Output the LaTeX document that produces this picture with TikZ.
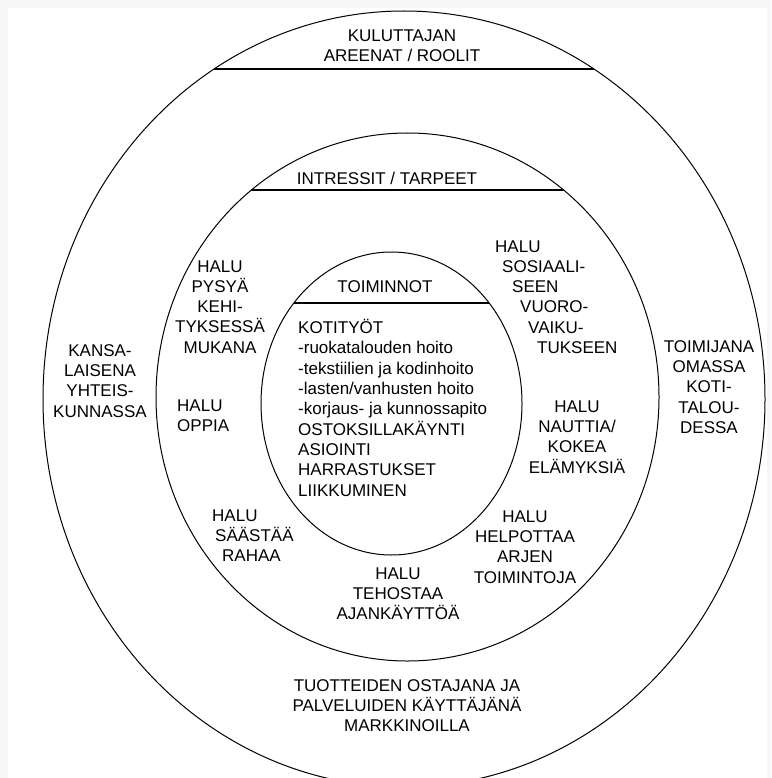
\documentclass[tikz,border=0pt]{standalone}
\usepackage{fontspec}
\setmainfont{Liberation Sans}
\usepackage{tikz}
\usetikzlibrary{positioning}

\definecolor{paper}{gray}{0.97}

\begin{document}
\begin{tikzpicture}[x=1pt, y=-1pt]
% -------------------------------------------------
\tikzset{
  ring/.style={draw, line width=1pt},
  chord/.style={draw, line width=1.6pt},
  txt/.style={inner sep=0pt, align=center, font=\fontsize{17}{20.3}\selectfont,
    execute at begin node={\rule{0pt}{15pt}}},
  midtext/.style={txt, anchor=north},
  lefttext/.style={txt, align=left, anchor=north west}
}
% -------------------------------------------------
% Page and the three rings
\useasboundingbox (0,0) rectangle (771,778);
\clip (0,0) rectangle (771,778);
\fill[paper] (0,0) rectangle (771,778);
\fill[white] (8,8) rectangle (767,778);

\draw[ring] (404,399) ellipse [x radius=361, y radius=388];
\draw[ring] (407.5,397) ellipse [x radius=251.5, y radius=264];
\draw[ring] (391.5,403.5) ellipse [x radius=130.5, y radius=151.5];

\coordinate (outerL) at (214.1,69);
\coordinate (outerR) at (593.9,69);
\coordinate (midL) at (251.4,190);
\coordinate (midR) at (563.6,190);
\coordinate (innerL) at (293.9,303);
\coordinate (innerR) at (489.1,303);

\draw[chord] (outerL) -- (outerR);
\draw[chord] (midL) -- (midR);
\draw[chord] (innerL) -- (innerR);

% -------------------------------------------------
% Outer ring: arenas / roles
\node[midtext] (arenas) at (402,29.2) {KULUTTAJAN\\AREENAT / ROOLIT};
\node[midtext] (citizen) at (100,344.2) {KANSA-\\LAISENA\\YHTEIS-\\KUNNASSA};
\node[midtext] (actor) at (709,340.2) {TOIMIJANA\\OMASSA\\KOTI-\\TALOU-\\DESSA};
\node[midtext] (market) at (407,679.2) {TUOTTEIDEN OSTAJANA JA\\PALVELUIDEN KÄYTTÄJÄNÄ\\MARKKINOILLA};

% Middle ring: interests / needs
\node[midtext] (needs) at (387,169.2) {INTRESSIT / TARPEET};
\node[midtext] (keepup) at (220,260.2) {HALU\\PYSYÄ\\KEHI-\\TYKSESSÄ\\MUKANA};
\node[lefttext] (learn) at (177,399.2) {HALU\\OPPIA};
\node[lefttext] (social) at (495,240.2) {HALU\\\hspace*{7pt}SOSIAALI-\\\hspace*{17pt}SEEN\\\hspace*{25pt}VUORO-\\\hspace*{33pt}VAIKU-\\\hspace*{42pt}TUKSEEN};
\node[midtext] (enjoy) at (577,400.2) {HALU\\NAUTTIA/\\KOKEA\\ELÄMYKSIÄ};
\node[lefttext] (save) at (212,509.2) {HALU\\\hspace*{3pt}SÄÄSTÄÄ\\\hspace*{10pt}RAHAA};
\node[midtext] (ease) at (525,510.2) {HALU\\HELPOTTAA\\ARJEN\\TOIMINTOJA};
\node[midtext] (time) at (398,567.2) {HALU\\TEHOSTAA\\AJANKÄYTTÖÄ};

% Inner ring: activities
\node[midtext] (acts) at (385,277.2) {TOIMINNOT};
\node[lefttext] (chores) at (298,319.2) {KOTITYÖT\\-ruokatalouden hoito\\-tekstiilien ja kodinhoito\\-lasten/vanhusten hoito\\-korjaus- ja kunnossapito\\OSTOKSILLAKÄYNTI\\ASIOINTI\\HARRASTUKSET\\LIIKKUMINEN};

\end{tikzpicture}
\end{document}
